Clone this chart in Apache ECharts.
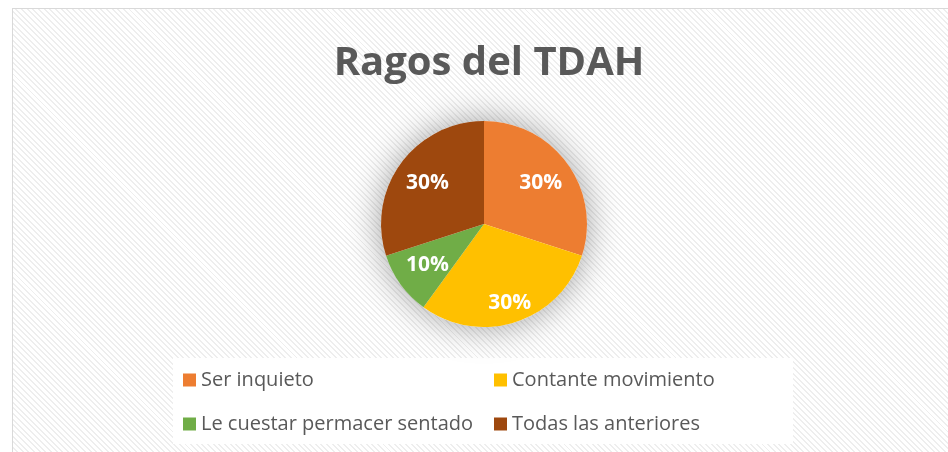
<!DOCTYPE html>
<html>
<head>
<meta charset="utf-8">
<script src="https://cdn.jsdelivr.net/npm/echarts@6/dist/echarts.min.js"></script>
<style>
  html, body { margin: 0; padding: 0; background: #fff; }
  #wrap { position: absolute; left: 12px; top: 8px; width: 960px; height: 460px;
    border: 1px solid #d9d9d9;
    background: repeating-linear-gradient(45deg, #ffffff 0px, #ffffff 2.6px, #eeeeee 2.6px, #eeeeee 4px); }
  #chart { position: absolute; left: 0; top: 0; width: 948px; height: 452px; }
</style>
</head>
<body>
<div id="wrap"></div>
<div id="chart"></div>
<script>
// datos
const categorias = ['Ser inquieto', 'Contante movimiento', 'Le cuestar permacer sentado', 'Todas las anteriores'];
const valores = [30, 30, 10, 30];
const colores = ['#ED7D31', '#FFC000', '#70AD47', '#9E480E'];

const pieData = categorias.map((c, i) => ({ name: c, value: valores[i] }));
const total = valores.reduce((a, b) => a + b, 0);

const chart = echarts.init(document.getElementById('chart'));
const legendText = { color: '#595959', fontSize: 20, fontFamily: 'Open Sans' };

chart.setOption({
  color: colores,
  animation: false,
  title: {
    text: 'Ragos del TDAH',
    left: 484, top: 39, textAlign: 'center',
    textStyle: { color: '#595959', fontSize: 40, fontWeight: 'bold', fontFamily: 'Open Sans' },
  },
  graphic: [
    { type: 'rect', left: 173, top: 358, shape: { width: 620, height: 86 }, style: { fill: '#ffffff' }, silent: true },
  ],
  legend: [
    { data: [categorias[0], categorias[2]], orient: 'vertical', left: 183, top: 370, padding: 0, itemWidth: 13, itemHeight: 13, itemGap: 24, icon: 'rect', textStyle: legendText },
    { data: [categorias[1], categorias[3]], orient: 'vertical', left: 494, top: 370, padding: 0, itemWidth: 13, itemHeight: 13, itemGap: 24, icon: 'rect', textStyle: legendText },
  ],
  series: [
    {
      // sombra de fondo
      type: 'pie', center: [484, 224], radius: 103, z: 1, silent: true,
      data: [{ name: 'total', value: total }],
      itemStyle: { color: '#ffffff', shadowBlur: 34, shadowColor: 'rgba(0,0,0,0.38)' },
      label: { show: false }, labelLine: { show: false }, emphasis: { disabled: true },
    },
    {
      type: 'pie', center: [484, 224], radius: 103, startAngle: 90, clockwise: true, z: 2,
      data: pieData, label: { show: false }, labelLine: { show: false },
      emphasis: { disabled: true },
    },
    {
      // capa de etiquetas
      type: 'pie', center: [484, 224], radius: [31, 103], startAngle: 90, clockwise: true,
      silent: true, z: 3,
      data: pieData.map((d, i) => i === 1 ? { ...d, label: { offset: [4, 12] } } : d),
      itemStyle: { color: 'rgba(0,0,0,0)' },
      label: { show: true, position: 'inside', formatter: '{c}%', color: '#fff', fontSize: 21, fontWeight: 'bold', fontFamily: 'Open Sans' },
      labelLine: { show: false },
      emphasis: { disabled: true },
    },
  ],
});
</script>
</body>
</html>
